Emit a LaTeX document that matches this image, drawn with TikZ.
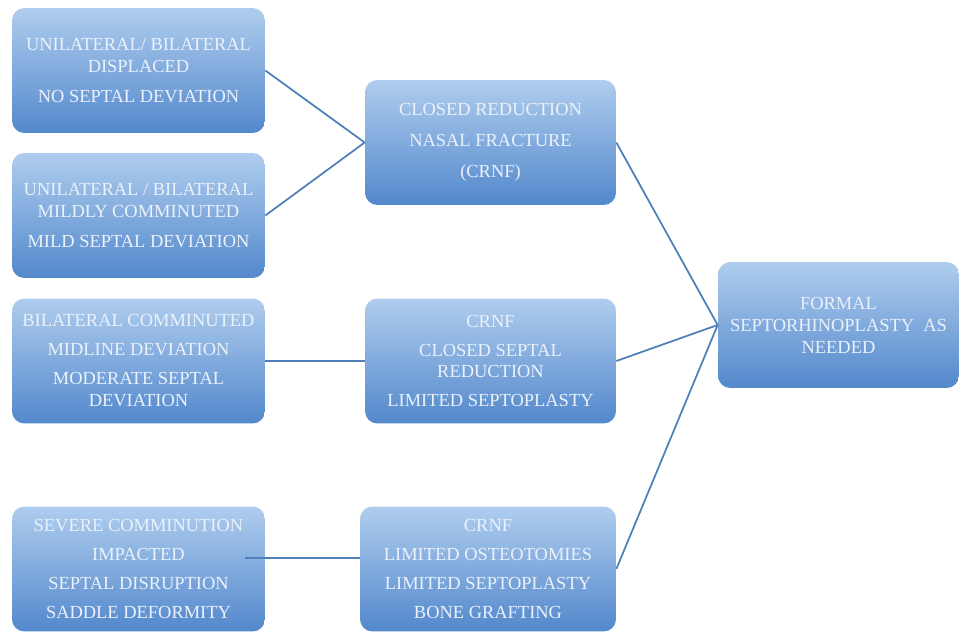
\documentclass[tikz,border=0pt]{standalone}
\usepackage{fontspec}
\setmainfont{Liberation Serif}
\usepackage{tikz}
\usetikzlibrary{positioning}

\definecolor{boxtop}{HTML}{AFCDEE}
\definecolor{boxbot}{HTML}{5388CC}
\definecolor{boxtext}{HTML}{EAF1FA}
\definecolor{linkblue}{HTML}{4F80B8}

\tikzset{
  stepbox/.style={rectangle, rounded corners=7pt, top color=boxtop, bottom color=boxbot,
    draw=none, minimum width=5.06cm, minimum height=2.5cm, align=center,
    text=boxtext, font=\fontsize{10.5}{12.5}\selectfont, inner sep=2pt},
  link/.style={linkblue, line width=1pt}
}

\begin{document}
\begin{tikzpicture}[x=0.02cm,y=-0.02cm]
\useasboundingbox (0,0) rectangle (959,634);

% left column
{
\node[stepbox] (displaced) at (138.5,70.5)
  {UNILATERAL/ BILATERAL\\DISPLACED\\[5pt]NO SEPTAL DEVIATION};
\node[stepbox] (mildly) at (138.5,215.5)
  {UNILATERAL / BILATERAL\\MILDLY COMMINUTED\\[5pt]MILD SEPTAL DEVIATION};
\node[stepbox] (comminuted) at (138.5,361)
  {BILATERAL COMMINUTED\\[4pt]MIDLINE DEVIATION\\[4pt]MODERATE SEPTAL\\DEVIATION};
\node[stepbox] (severe) at (138.5,569)
  {SEVERE COMMINUTION\\[4pt]IMPACTED\\[4pt]SEPTAL DISRUPTION\\[4pt]SADDLE DEFORMITY};
}

% middle column
{
\node[stepbox, minimum width=5.02cm] (crnf) at (490.5,142.5)
  {CLOSED REDUCTION\\[5pt]NASAL FRACTURE\\[5pt](CRNF)};
\node[stepbox, minimum width=5.02cm] (septal) at (490.5,361)
  {CRNF\\[4pt]CLOSED SEPTAL\\REDUCTION\\[4pt]LIMITED SEPTOPLASTY};
\node[stepbox, minimum width=5.12cm] (osteo) at (488,569)
  {CRNF\\[4pt]LIMITED OSTEOTOMIES\\[4pt]LIMITED SEPTOPLASTY\\[4pt]BONE GRAFTING};
}

% right box
\node[stepbox, minimum width=4.82cm, minimum height=2.52cm] (formal) at (838.5,325)
  {FORMAL\\SEPTORHINOPLASTY\ \ AS\\NEEDED};

% connectors
{
\draw[link] (displaced.east) -- (crnf.west);
\draw[link] (mildly.east) -- (crnf.west);
\draw[link] (comminuted.east) -- (septal.west);
\coordinate (severeend) at (245,558);
\draw[link, line width=1.5pt] (severeend) -- (severeend -| osteo.west);

\draw[link] (crnf.east) -- (formal.west);
\draw[link] (septal.east) -- (formal.west);
\draw[link] (osteo.east) -- (formal.west);
}

\end{tikzpicture}
\end{document}
